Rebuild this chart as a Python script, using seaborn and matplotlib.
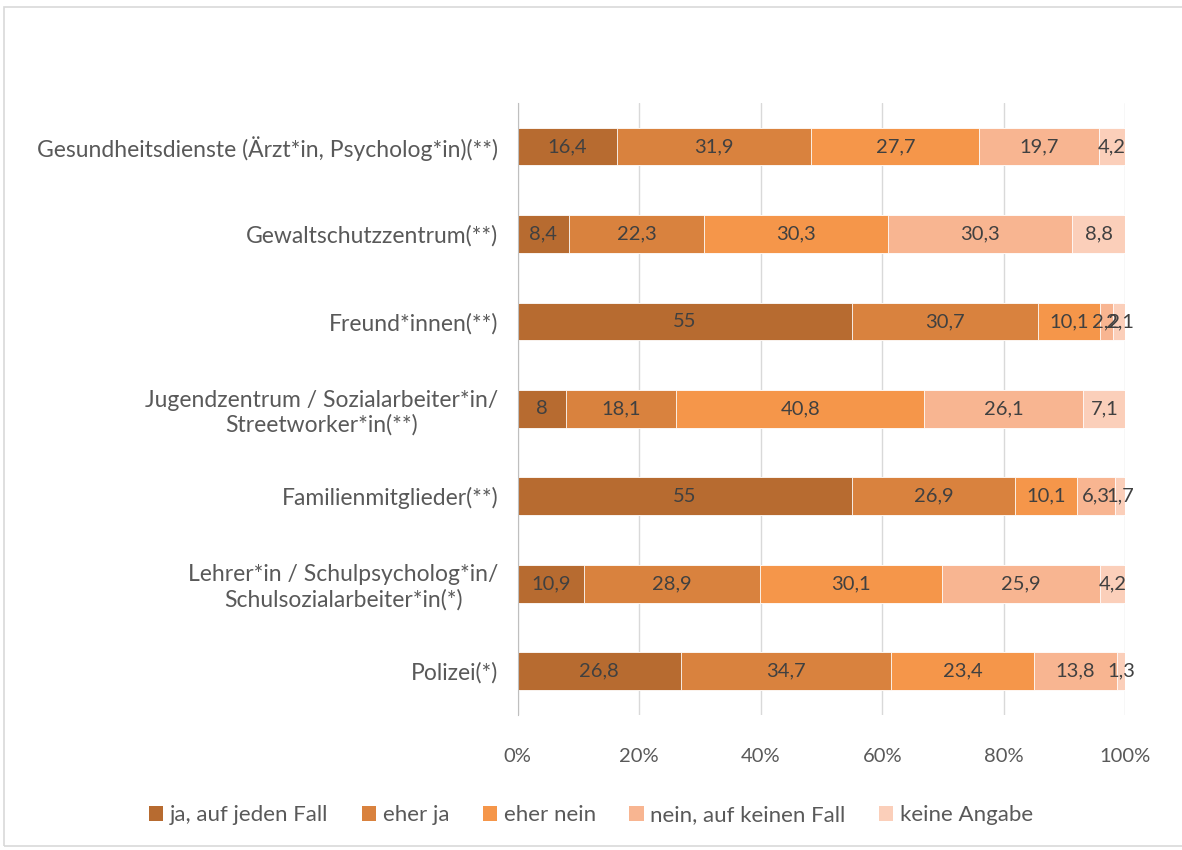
import numpy as np
import pandas as pd
import matplotlib
matplotlib.use("Agg")
import matplotlib.pyplot as plt
import seaborn as sns
from matplotlib.patches import Rectangle, Patch

# ================= Data =================
categories = [
    "Gesundheitsdienste (Ärzt*in, Psycholog*in)(**)",
    "Gewaltschutzzentrum(**)",
    "Freund*innen(**)",
    "Jugendzentrum / Sozialarbeiter*in/\nStreetworker*in(**)",
    "Familienmitglieder(**)",
    "Lehrer*in / Schulpsycholog*in/\nSchulsozialarbeiter*in(*)",
    "Polizei(*)",
]
series_names = ["ja, auf jeden Fall", "eher ja", "eher nein",
                "nein, auf keinen Fall", "keine Angabe"]
ja_auf_jeden_fall = [16.4, 8.4, 55, 8, 55, 10.9, 26.8]
eher_ja = [31.9, 22.3, 30.7, 18.1, 26.9, 28.9, 34.7]
eher_nein = [27.7, 30.3, 10.1, 40.8, 10.1, 30.1, 23.4]
nein_auf_keinen_fall = [19.7, 30.3, 2.2, 26.1, 6.3, 25.9, 13.8]
keine_angabe = [4.2, 8.8, 2.1, 7.1, 1.7, 4.2, 1.3]
x_ticks = [0, 20, 40, 60, 80, 100]

COLORS = ["#B76B30", "#D9823E", "#F5964A", "#F8B591", "#FBCFBA"]

series = [ja_auf_jeden_fall, eher_ja, eher_nein, nein_auf_keinen_fall, keine_angabe]
df = pd.DataFrame(dict(zip(series_names, series)))
df["Kategorie"] = categories
cum = df[series_names].cumsum(axis=1)

# ================= Plot =================
sns.set_style("white")
plt.rcParams["font.family"] = ["Lato", "DejaVu Sans"]
FS = 14.5
FS_CAT = 16.5

fig = plt.figure(figsize=(11.82, 8.5), dpi=100)
ax = fig.add_axes([0.438, 0.159, 0.514, 0.72])

# stacked bars: draw cumulative totals from the back to the front
for name, col in reversed(list(zip(series_names, COLORS))):
    sns.barplot(x=cum[name], y=df["Kategorie"], orient="h", color=col,
                width=0.43, edgecolor="white", linewidth=0.6, ax=ax,
                saturation=1, zorder=3)

# value labels centred in each segment
for name in series_names:
    for i, (v, c) in enumerate(zip(df[name], cum[name])):
        txt = f"{v:g}".replace(".", ",")
        ax.text(c - v / 2, i, txt, ha="center", va="center",
                fontsize=FS, color="#404040", zorder=5)

ax.set_xlim(0, 100)
ax.set_xticks(x_ticks)
ax.set_xticklabels([f"{t}%" for t in x_ticks])
ax.set_xlabel("")
ax.set_ylabel("")
ax.grid(axis="x", color="#D9D9D9", linewidth=1, zorder=0)
ax.set_axisbelow(True)
for s in ["top", "right", "bottom"]:
    ax.spines[s].set_visible(False)
ax.spines["left"].set_color("#BFBFBF")
ax.spines["left"].set_zorder(4)
ax.tick_params(axis="x", length=0, labelsize=FS, colors="#595959", pad=24)
ax.tick_params(axis="y", length=0, labelsize=FS_CAT, colors="#595959", pad=14)
for lab in ax.get_yticklabels():
    lab.set_multialignment("center")

handles = [Patch(facecolor=c, edgecolor="none") for c in COLORS]
fig.legend(handles, series_names, loc="center", bbox_to_anchor=(0.5, 0.041),
           ncol=5, frameon=False, fontsize=16, handlelength=0.65,
           handleheight=0.65, handletextpad=0.3, columnspacing=1.5,
           labelcolor="#595959")

fig.patches.append(Rectangle((0.003, 0.005), 1.1, 0.987, transform=fig.transFigure,
                             fill=False, edgecolor="#D9D9D9", linewidth=1.2))

fig.savefig("out.png", dpi=100)
plt.close()
